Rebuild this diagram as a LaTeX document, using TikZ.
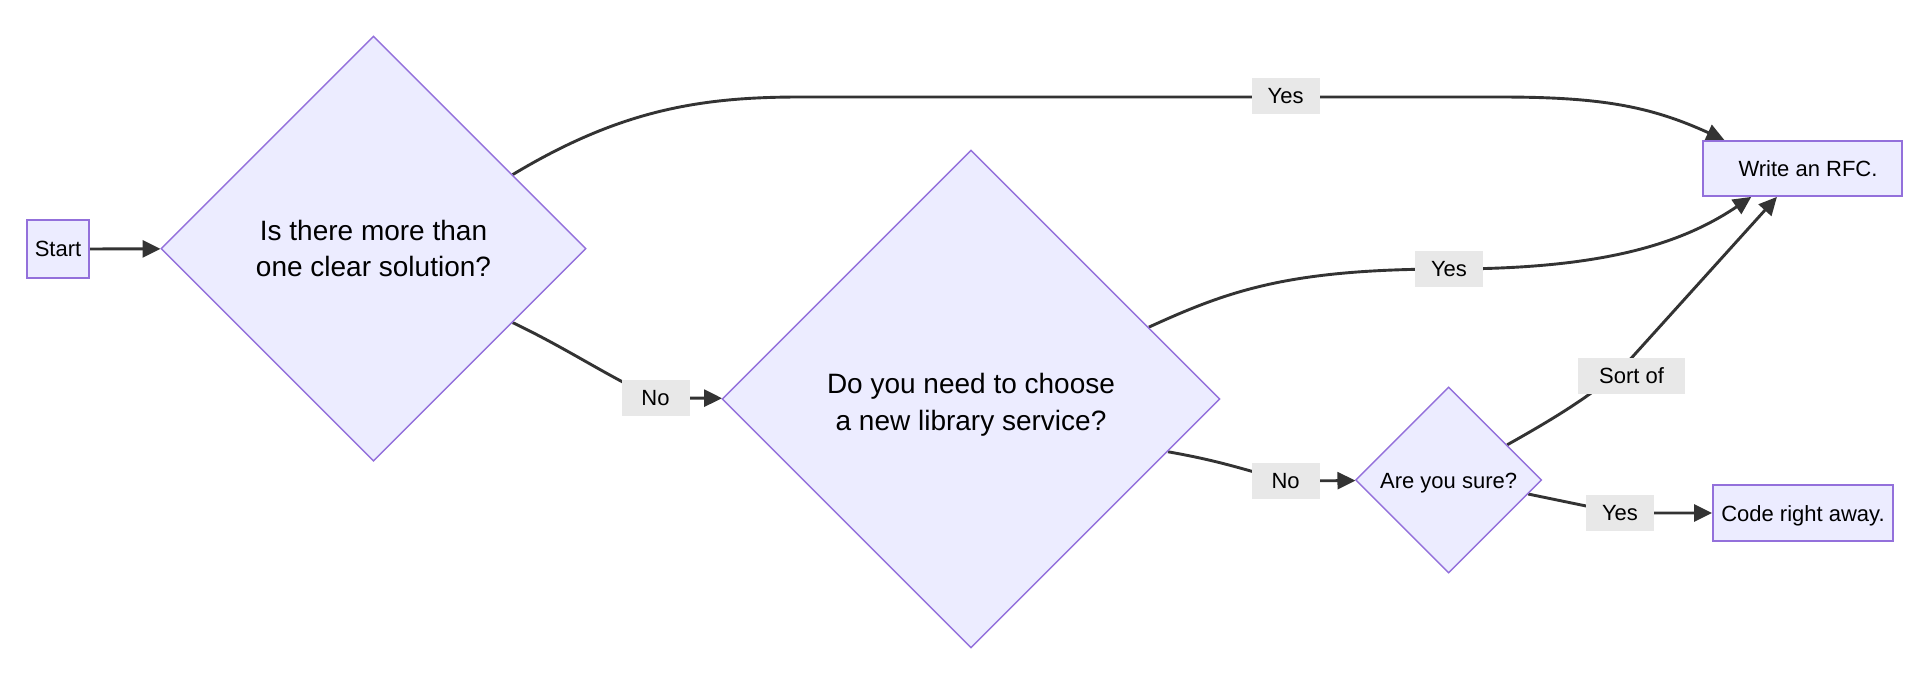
\documentclass[tikz,border=0pt]{standalone}
\usepackage{fontspec}
\setmainfont{Liberation Sans}
\usetikzlibrary{shapes.geometric,arrows.meta}
\definecolor{nodefill}{HTML}{ECECFF}
\definecolor{nodeline}{HTML}{9370DB}
\definecolor{edgecol}{HTML}{333333}
\definecolor{lblfill}{HTML}{E8E8E8}
\pgfdeclarelayer{bg}
\pgfsetlayers{bg,main}
\tikzset{
  box/.style={draw=nodeline, fill=nodefill, line width=1.8pt, inner sep=0pt,
    font=\fontsize{22}{27}\selectfont, text=black},
  decision/.style={diamond, aspect=1, draw=nodeline, fill=nodefill, line width=1.4pt,
    inner sep=0pt, align=center, text=black},
  lbl/.style={fill=lblfill, inner sep=0pt, minimum height=36pt, minimum width=68pt,
    font=\fontsize{22}{27}\selectfont, text=black},
  link/.style={draw=edgecol, line width=2.9pt},
  arr/.style={link, -{Triangle[length=18pt,width=17pt]}},
}
\begin{document}
\begin{tikzpicture}[x=1pt, y=-1pt]
\useasboundingbox (0,0) rectangle (1920,697);

% nodes
\node[box, minimum width=62pt, minimum height=58pt] (start) at (58,249) {Start};
\node[decision, minimum width=425pt, minimum height=425pt,
  font=\fontsize{28}{36}\selectfont] (d1) at (373.5,248.6)
  {Is there more than\\one clear solution?};
\node[decision, minimum width=498pt, minimum height=498pt,
  label={[align=center, text=black, font=\fontsize{28}{37}\selectfont,
    yshift=-6pt]center:{Do you need to choose\\a new library service?}}]
  (d2) at (971,399) {};
\node[decision, minimum width=186pt, minimum height=186pt,
  font=\fontsize{22}{27}\selectfont, text height=21pt, text depth=4.6pt]
  (sure) at (1448.6,480) {Are you sure?};
\node[box, minimum width=199pt, minimum height=55pt] (rfc) at (1802.5,168.5)
  {\hspace*{11pt}Write an RFC.};
\node[box, minimum width=180pt, minimum height=56pt, text height=21pt,
  text depth=4.6pt] (code) at (1803,513) {Code right away.};

% edge labels
\node[lbl] (y1) at (1285.6,96) {Yes};
\node[lbl] (y2) at (1449,269) {Yes};
\node[lbl] (no1) at (655.5,398) {No};
\node[lbl] (no2) at (1285.6,481) {No};
\node[lbl, minimum width=107pt] (so) at (1631.6,376) {Sort of};
\node[lbl] (y3) at (1620,513) {Yes};

% connectors
\begin{pgfonlayer}{bg}
\fill[white] (0,0) rectangle (1920,697);
\draw[arr] (start) -- (d1);
\draw[arr] (d1.28) .. controls (620,110) and (700,97) .. (800,97)
  -- (1500,97) .. controls (1600,97) and (1650,106) .. (rfc.160);
\draw[arr] (d1.-28) .. controls (570,350) and (610,378) .. (no1.center) -- (d2);
\draw[arr] (d2.22) .. controls (1230,290) and (1290,269) .. (y2.center)
  .. controls (1600,269) and (1680,245) .. (rfc.209);
\draw[arr] (d2.-15) .. controls (1215,460) and (1240,468) .. (no2.center) -- (sure);
\draw[arr] (sure.31) .. controls (1555,418) and (1605,388) .. (so.north) -- (rfc.228);
\draw[arr] (sure.-10) -- (y3.center) -- (code);
\end{pgfonlayer}
\end{tikzpicture}
\end{document}
